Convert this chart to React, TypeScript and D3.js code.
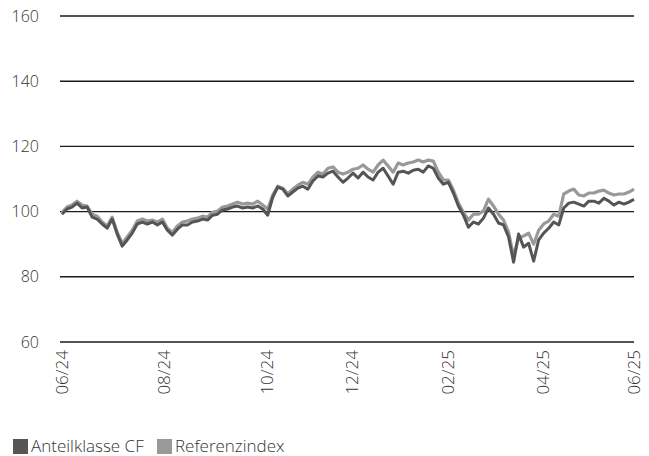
import React from "react";
import * as d3 from "d3";

const fundValues = [
  99.2, 100.8, 101.4, 102.6, 101.1, 101.4, 98.3, 97.7, 96.2, 94.9,
  97.7, 93.1, 89.4, 91.3, 93.4, 96.2, 96.8, 96.2, 96.8, 95.9,
  96.8, 94.3, 92.8, 94.6, 95.9, 95.9, 96.8, 97.1, 97.7, 97.4,
  98.9, 99.2, 100.5, 100.8, 101.4, 101.7, 101.1, 101.4, 101.1, 101.7,
  100.8, 98.9, 104.4, 107.5, 106.9, 104.8, 106.0, 107.2, 107.8, 106.9,
  109.4, 110.9, 110.6, 111.8, 112.4, 110.6, 109.0, 110.3, 111.8, 110.3,
  112.1, 110.6, 109.7, 112.1, 113.3, 110.9, 108.4, 112.1, 112.4, 111.8,
  112.7, 113.0, 112.1, 114.0, 113.3, 110.3, 108.4, 109.0, 105.7, 101.7,
  98.9, 95.2, 96.8, 96.2, 98.0, 101.1, 99.2, 96.5, 95.9, 92.2,
  84.5, 93.1, 89.1, 90.3, 84.8, 91.3, 93.4, 94.9, 96.8, 95.9,
  101.1, 102.6, 102.9, 102.3, 101.7, 103.2, 103.2, 102.6, 104.1, 103.2,
  102.0, 102.9, 102.3, 102.9, 103.8,
];

const indexValues = [
  99.8, 101.4, 102.0, 103.2, 102.0, 101.7, 99.2, 98.6, 96.8, 95.6,
  98.3, 93.7, 90.3, 92.2, 94.3, 97.1, 97.7, 97.1, 97.4, 96.8,
  97.7, 94.9, 93.7, 95.6, 96.8, 97.1, 97.7, 98.0, 98.6, 98.3,
  99.8, 100.2, 101.4, 101.7, 102.3, 102.9, 102.3, 102.6, 102.3, 103.2,
  102.0, 100.8, 105.1, 107.8, 107.2, 105.4, 106.9, 108.1, 109.0, 108.4,
  110.6, 112.1, 111.5, 113.3, 113.7, 112.1, 111.5, 112.1, 113.0, 113.3,
  114.3, 113.0, 112.1, 114.3, 115.8, 114.0, 112.1, 114.9, 114.3, 114.9,
  115.2, 115.8, 115.2, 115.8, 115.5, 112.1, 109.7, 109.7, 106.6, 102.6,
  99.8, 97.4, 99.2, 99.2, 100.2, 103.8, 101.7, 99.2, 97.4, 93.7,
  86.3, 91.9, 92.5, 93.4, 90.0, 94.3, 96.2, 97.1, 99.2, 98.6,
  105.4, 106.3, 106.9, 105.1, 104.8, 105.7, 105.7, 106.3, 106.6, 105.7,
  105.1, 105.4, 105.4, 106.0, 106.9,
];

const yTicks = [60, 80, 100, 120, 140, 160];
const xTickLabels = ["06/24", "08/24", "10/24", "12/24", "02/25", "04/25", "06/25"];
const xTickIndex = [0, 20.3, 40.8, 57.8, 77, 95.8, 114];

const seriesNames = ["Anteilklasse CF", "Referenzindex"];
const seriesColors = ["#555555", "#999999"];

export default function App() {
  const W = 649;
  const H = 456;
  const n = fundValues.length;
  const x = d3.scaleLinear().domain([0, n - 1]).range([62, 634]);
  const y = d3.scaleLinear().domain([60, 160]).range([342, 16]);
  const line = d3
    .line<number>()
    .x((_, i) => x(i))
    .y((d) => y(d))
    .curve(d3.curveLinear);
  const font = "'Open Sans', 'DejaVu Sans', sans-serif";

  return (
    <div style={{ position: "absolute", left: 0, top: 0 }}>
      <svg width={W} height={H} style={{ display: "block", background: "#fff" }}>
        {yTicks.map((t) => (
          <g key={t}>
            <line x1={60} x2={634} y1={y(t)} y2={y(t)} stroke="#1a1a1a" strokeWidth={1.4} />
            <text
              x={39}
              y={y(t)}
              dy="0.35em"
              textAnchor="end"
              fontFamily={font}
              fontSize={16}
              fontWeight={300}
              fill="#333"
            >
              {t}
            </text>
          </g>
        ))}
        <path d={line(indexValues) || ""} fill="none" stroke={seriesColors[1]} strokeWidth={3.2} strokeLinejoin="round" />
        <path d={line(fundValues) || ""} fill="none" stroke={seriesColors[0]} strokeWidth={3} strokeLinejoin="round" />
        {xTickLabels.map((lab, i) => (
          <text
            key={lab}
            transform={`translate(${x(xTickIndex[i])},350) rotate(-90)`}
            dy="0.35em"
            textAnchor="end"
            fontFamily={font}
            fontSize={17}
            fontWeight={300}
            fill="#333"
          >
            {lab}
          </text>
        ))}
        {seriesNames.map((name, i) => (
          <g key={name} transform={`translate(${13 + i * 144},439)`}>
            <rect x={0} y={0} width={15} height={15} fill={seriesColors[i]} />
            <text x={18} y={7.5} dy="0.35em" fontFamily={font} fontSize={17} fontWeight={300} fill="#333">
              {name}
            </text>
          </g>
        ))}
      </svg>
    </div>
  );
}
